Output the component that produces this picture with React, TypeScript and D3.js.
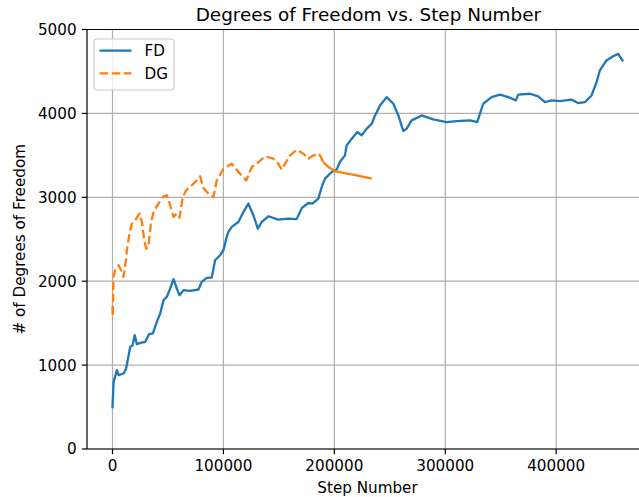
import React from "react";
import * as d3 from "d3";

// Step numbers and degrees-of-freedom counts for each method
const fdSteps = [0, 1000, 4000, 5500, 10000, 12300, 16000, 18000, 20000, 22000, 25000, 29500, 33000, 36400, 40000, 43000, 46000, 49000, 52000, 55000, 58000, 60400, 64000, 70000, 77500, 80500, 85000, 89500, 92500, 97000, 100000, 103000, 104500, 107500, 113500, 118000, 122500, 127000, 131000, 134600, 140500, 149500, 158500, 166000, 170600, 176600, 180200, 185600, 188600, 191600, 197600, 202100, 205000, 209600, 211100, 215700, 220700, 224700, 229200, 233700, 236700, 241200, 247200, 253200, 257700, 262200, 265200, 269700, 278700, 289200, 301200, 310300, 322300, 328800, 334200, 341800, 349300, 356800, 363700, 365800, 376300, 383800, 389800, 395900, 403300, 413900, 419800, 425900, 431900, 436400, 439400, 445400, 451300, 455900, 459800];
const fdValues = [500, 800, 940, 880, 900, 960, 1218, 1230, 1357, 1250, 1265, 1278, 1369, 1377, 1516, 1615, 1774, 1814, 1913, 2024, 1913, 1833, 1893, 1885, 1901, 1992, 2040, 2044, 2250, 2310, 2369, 2528, 2587, 2647, 2706, 2825, 2925, 2786, 2627, 2706, 2774, 2734, 2746, 2740, 2870, 2932, 2925, 2984, 3123, 3222, 3302, 3330, 3420, 3500, 3619, 3698, 3778, 3738, 3818, 3877, 3976, 4095, 4194, 4115, 3976, 3790, 3818, 3917, 3976, 3929, 3897, 3909, 3917, 3897, 4115, 4194, 4223, 4194, 4155, 4223, 4234, 4202, 4135, 4155, 4147, 4163, 4123, 4135, 4214, 4373, 4512, 4631, 4682, 4710, 4631];

const dgSteps = [0, 200, 900, 2400, 5400, 8500, 9900, 11400, 13000, 15300, 17500, 20500, 24300, 26500, 28600, 30400, 32400, 34600, 37000, 41400, 46000, 49000, 52000, 55000, 58000, 60400, 63400, 66400, 70000, 76000, 79000, 82000, 86500, 91000, 94000, 100000, 107500, 113500, 120500, 125600, 131500, 137600, 145000, 149500, 152600, 155600, 160100, 166100, 172100, 176600, 181100, 186500, 190100, 194600, 200600, 208100, 220200, 233700];
const dgValues = [1700, 1580, 2051, 2131, 2190, 2111, 2051, 2170, 2369, 2568, 2687, 2726, 2806, 2706, 2488, 2389, 2409, 2687, 2825, 2925, 3012, 3024, 2905, 2766, 2806, 2758, 3004, 3083, 3123, 3202, 3250, 3110, 3044, 3004, 3200, 3341, 3400, 3302, 3200, 3361, 3420, 3488, 3460, 3401, 3329, 3401, 3500, 3567, 3520, 3460, 3500, 3512, 3420, 3361, 3313, 3290, 3262, 3222];
// Past this step the DG trace is dense enough that its dashes merge into a solid stroke
const dgDenseFrom = 190100;

const xTicks = [0, 100000, 200000, 300000, 400000];
const yTicks = [0, 1000, 2000, 3000, 4000, 5000];

const title = "Degrees of Freedom vs. Step Number";
const xLabel = "Step Number";
const yLabel = "# of Degrees of Freedom";
const seriesNames = ["FD", "DG"];

const W = 639;
const H = 497;
const FONT = "DejaVu Sans, sans-serif";
const BLUE = "#1f77b4";
const ORANGE = "#ff7f0e";

export default function App() {
  const left = 87;
  const right = 648;
  const top = 29.5;
  const bottom = 449;

  const xMax = d3.max(fdSteps.concat(dgSteps)) as number;
  const pad = xMax * 0.05;
  const x = d3.scaleLinear().domain([-pad, xMax + pad]).range([left, right]);
  const y = d3.scaleLinear().domain([0, 5000]).range([bottom, top]);

  const line = d3
    .line<[number, number]>()
    .x((d) => x(d[0]))
    .y((d) => y(d[1]));

  const fd: [number, number][] = fdSteps.map((s, i) => [s, fdValues[i]]);
  const dg: [number, number][] = dgSteps.map((s, i) => [s, dgValues[i]]);
  const dgDashed = dg.filter((d) => d[0] <= dgDenseFrom);
  const dgSolid = dg.filter((d) => d[0] >= dgDenseFrom);

  const tickLen = 5.2;
  const tickPad = 5.2;
  const fs = 15.2;
  const lw = 2.3;
  const dash = "8.5 3.7";

  return (
    <svg
      width={W}
      height={H}
      style={{ position: "absolute", left: 0, top: 0, background: "#fff" }}
      fontFamily={FONT}
    >
      <rect x={0} y={0} width={W} height={H} fill="#fff" />
      <defs>
        <clipPath id="plot-clip">
          <rect x={left} y={top} width={right - left} height={bottom - top} />
        </clipPath>
      </defs>

      {/* grid */}
      <g stroke="#b0b0b0" strokeWidth={1.2}>
        {xTicks.map((t) => (
          <line key={"gx" + t} x1={x(t)} x2={x(t)} y1={top} y2={bottom} />
        ))}
        {yTicks.map((t) => (
          <line key={"gy" + t} x1={left} x2={right} y1={y(t)} y2={y(t)} />
        ))}
      </g>

      {/* series */}
      <g clipPath="url(#plot-clip)" fill="none" strokeWidth={lw} strokeLinejoin="round">
        <path d={line(fd) || ""} stroke={BLUE} strokeLinecap="square" />
        <path d={line(dgDashed) || ""} stroke={ORANGE} strokeDasharray={dash} />
        <path d={line(dgSolid) || ""} stroke={ORANGE} />
      </g>

      {/* spines */}
      <g stroke="#000" strokeWidth={1.2} fill="none">
        <line x1={left} x2={left} y1={top} y2={bottom} />
        <line x1={left} x2={right} y1={bottom} y2={bottom} />
        <line x1={left} x2={right} y1={top} y2={top} />
        <line x1={right} x2={right} y1={top} y2={bottom} />
      </g>

      {/* ticks */}
      <g fontSize={fs} fill="#000">
        {xTicks.map((t) => (
          <g key={"xt" + t}>
            <line x1={x(t)} x2={x(t)} y1={bottom} y2={bottom + tickLen} stroke="#000" strokeWidth={1.2} />
            <text x={x(t)} y={bottom + tickLen + tickPad + fs * 0.76} textAnchor="middle">
              {t}
            </text>
          </g>
        ))}
        {yTicks.map((t) => (
          <g key={"yt" + t}>
            <line x1={left - tickLen} x2={left} y1={y(t)} y2={y(t)} stroke="#000" strokeWidth={1.2} />
            <text x={left - tickLen - tickPad} y={y(t)} dy="0.36em" textAnchor="end">
              {t}
            </text>
          </g>
        ))}
      </g>

      {/* labels */}
      <text x={368.4} y={20.7} textAnchor="middle" fontSize={18.4}>
        {title}
      </text>
      <text x={(left + right) / 2} y={493} textAnchor="middle" fontSize={fs}>
        {xLabel}
      </text>
      <text
        transform={`translate(25, ${(top + bottom) / 2}) rotate(-90)`}
        textAnchor="middle"
        fontSize={fs}
      >
        {yLabel}
      </text>

      {/* legend */}
      <g>
        <rect x={94} y={39} width={80} height={51} rx={3} fill="#fff" fillOpacity={0.8} stroke="#cccccc" strokeWidth={1.2} />
        <line x1={99.5} x2={131.5} y1={50.7} y2={50.7} stroke={BLUE} strokeWidth={lw} />
        <line x1={99.5} x2={131.5} y1={73.3} y2={73.3} stroke={ORANGE} strokeWidth={lw} strokeDasharray={dash} />
        <text x={144.5} y={50.7} dy="0.36em" fontSize={fs}>
          {seriesNames[0]}
        </text>
        <text x={144.5} y={73.3} dy="0.36em" fontSize={fs}>
          {seriesNames[1]}
        </text>
      </g>
    </svg>
  );
}
